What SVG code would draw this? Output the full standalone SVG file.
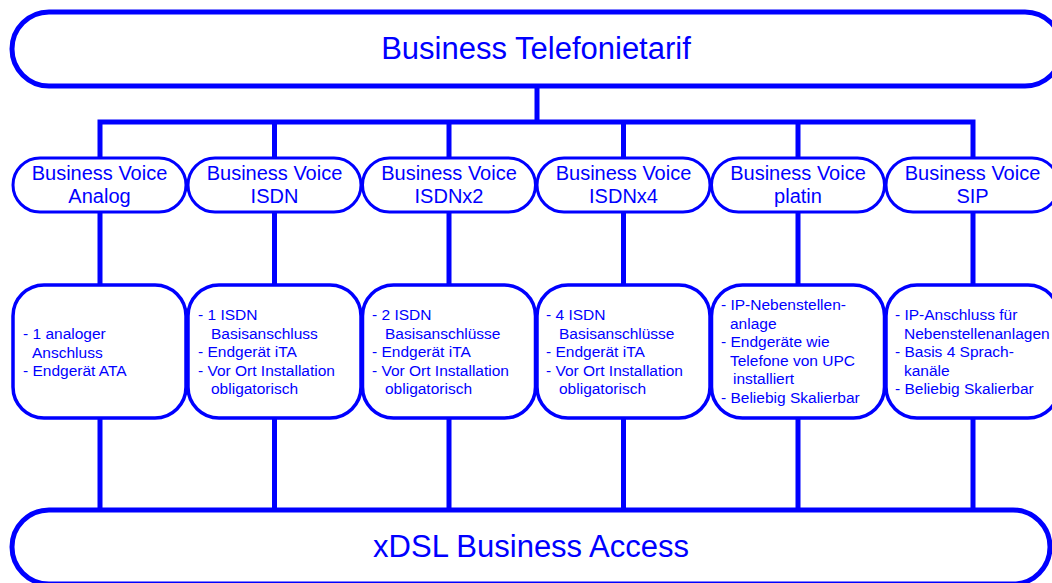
<svg xmlns="http://www.w3.org/2000/svg" width="1052" height="583" viewBox="0 0 1052 583">
<style>
.big{fill:#fff;stroke:#0000ff;stroke-width:5}
.pill{fill:#fff;stroke:#0000ff;stroke-width:3}
.box{fill:#fff;stroke:#0000ff;stroke-width:3.5}
.con{fill:none;stroke:#0000ff;stroke-width:5}
text{font-family:"Liberation Sans",Arial,sans-serif;fill:#0000ff}
.t1{font-size:31px;text-anchor:middle}
.t2{font-size:20px;text-anchor:middle}
.t3{font-size:15.5px}
</style>
<rect width="1052" height="583" fill="#fff"/>
<g id="connectors">
<path class="con" d="M537 86V122M100 124V122H973V158M274.5 122V158M449 122V158M623.5 122V158M798 122V158M100 122V158"/>
<path class="con" d="M100 212V285M274.5 212V285M449 212V285M623.5 212V285M798 212V285M973 212V285"/>
<path class="con" d="M100 418V510M274.5 418V510M449 418V510M623.5 418V510M798 418V510M973 418V510"/>
</g>
<g id="top">
<rect class="big" x="12" y="12" width="1050" height="74" rx="37"/>
<text class="t1" x="536" y="59">Business Telefonietarif</text>
</g>
<g id="bottom">
<rect class="big" x="12" y="510" width="1038" height="74" rx="37"/>
<text class="t1" x="531" y="557">xDSL Business Access</text>
</g>
<g id="p1"><rect class="pill" x="13" y="158" width="173" height="54" rx="27"/><text class="t2" x="99.5" y="180">Business Voice</text><text class="t2" x="99.5" y="203">Analog</text></g>
<g id="p2"><rect class="pill" x="188" y="158" width="173" height="54" rx="27"/><text class="t2" x="274.5" y="180">Business Voice</text><text class="t2" x="274.5" y="203">ISDN</text></g>
<g id="p3"><rect class="pill" x="362.5" y="158" width="173" height="54" rx="27"/><text class="t2" x="449" y="180">Business Voice</text><text class="t2" x="449" y="203">ISDNx2</text></g>
<g id="p4"><rect class="pill" x="537" y="158" width="173" height="54" rx="27"/><text class="t2" x="623.5" y="180">Business Voice</text><text class="t2" x="623.5" y="203">ISDNx4</text></g>
<g id="p5"><rect class="pill" x="711.5" y="158" width="173" height="54" rx="27"/><text class="t2" x="798" y="180">Business Voice</text><text class="t2" x="798" y="203">platin</text></g>
<g id="p6"><rect class="pill" x="886" y="158" width="173" height="54" rx="27"/><text class="t2" x="972.5" y="180">Business Voice</text><text class="t2" x="972.5" y="203">SIP</text></g>
<g id="b1"><rect class="box" x="13" y="285" width="173" height="133" rx="31"/>
<text class="t3"><tspan x="23" y="339">- 1 analoger</tspan><tspan x="32" y="357.5">Anschluss</tspan><tspan x="23" y="376">- Endgerät ATA</tspan></text></g>
<g id="b2"><rect class="box" x="188" y="285" width="173" height="133" rx="31"/>
<text class="t3"><tspan x="198" y="320">- 1 ISDN</tspan><tspan x="211" y="338.5">Basisanschluss</tspan><tspan x="198" y="357">- Endgerät iTA</tspan><tspan x="198" y="375.5">- Vor Ort Installation</tspan><tspan x="211" y="394">obligatorisch</tspan></text></g>
<g id="b3"><rect class="box" x="362.5" y="285" width="173" height="133" rx="31"/>
<text class="t3"><tspan x="372" y="320">- 2 ISDN</tspan><tspan x="385" y="338.5">Basisanschlüsse</tspan><tspan x="372" y="357">- Endgerät iTA</tspan><tspan x="372" y="375.5">- Vor Ort Installation</tspan><tspan x="385" y="394">obligatorisch</tspan></text></g>
<g id="b4"><rect class="box" x="537" y="285" width="173" height="133" rx="31"/>
<text class="t3"><tspan x="546" y="320">- 4 ISDN</tspan><tspan x="559" y="338.5">Basisanschlüsse</tspan><tspan x="546" y="357">- Endgerät iTA</tspan><tspan x="546" y="375.5">- Vor Ort Installation</tspan><tspan x="559" y="394">obligatorisch</tspan></text></g>
<g id="b5"><rect class="box" x="711.5" y="285" width="173" height="133" rx="31"/>
<text class="t3"><tspan x="721" y="310">- IP-Nebenstellen-</tspan><tspan x="730" y="328.5">anlage</tspan><tspan x="721" y="347">- Endgeräte wie</tspan><tspan x="730" y="365.5">Telefone von UPC</tspan><tspan x="733" y="384">installiert</tspan><tspan x="721" y="402.5">- Beliebig Skalierbar</tspan></text></g>
<g id="b6"><rect class="box" x="886" y="285" width="173" height="133" rx="31"/>
<text class="t3"><tspan x="895" y="320">- IP-Anschluss für</tspan><tspan x="904" y="338.5">Nebenstellenanlagen</tspan><tspan x="895" y="357">- Basis 4 Sprach-</tspan><tspan x="904" y="375.5">kanäle</tspan><tspan x="895" y="394">- Beliebig Skalierbar</tspan></text></g>
</svg>
